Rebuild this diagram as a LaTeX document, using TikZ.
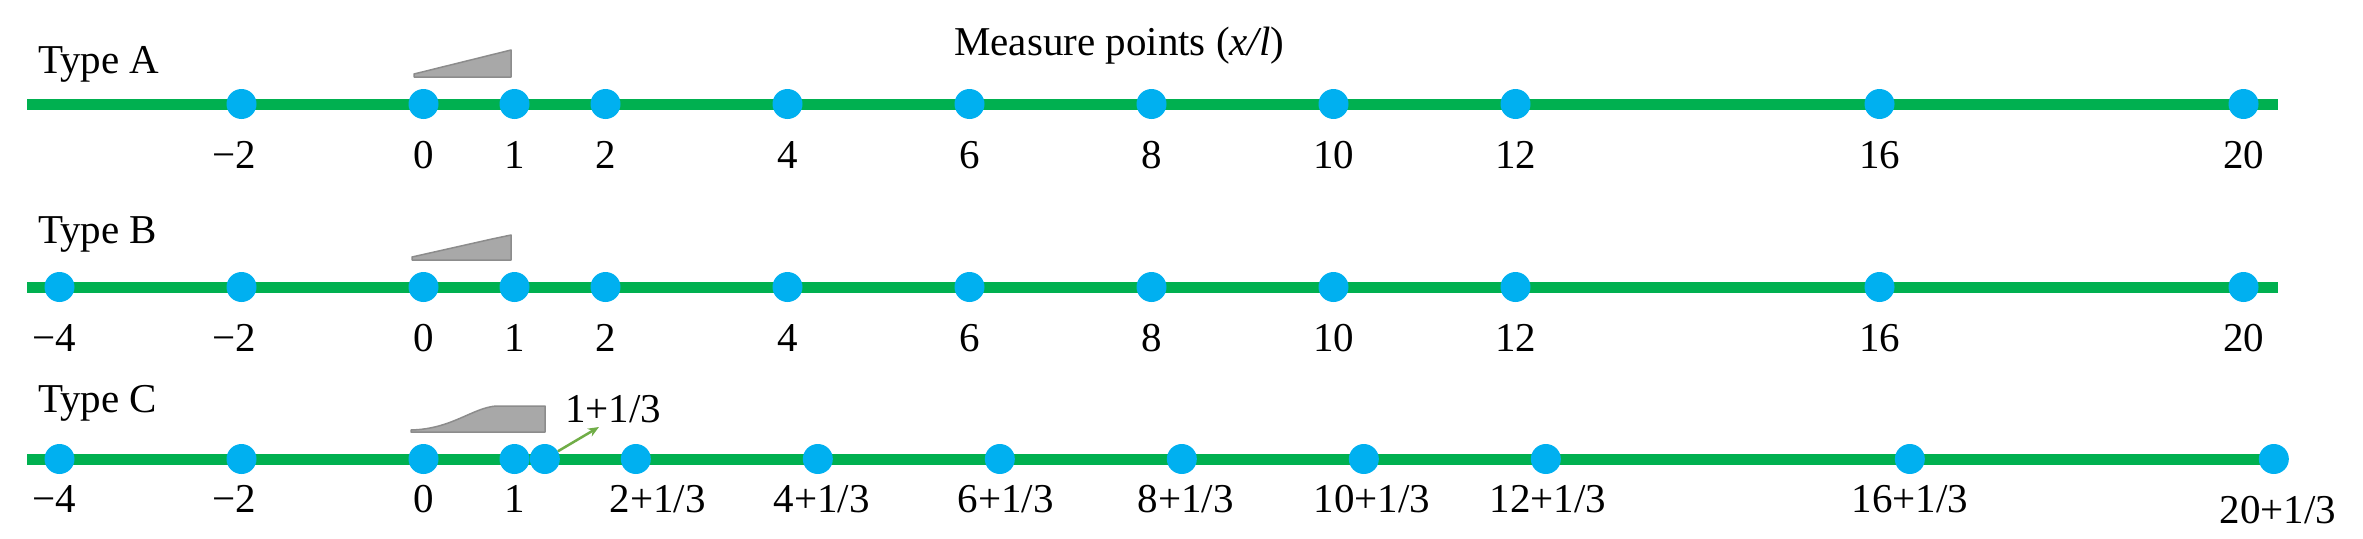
\documentclass[tikz,border=0pt]{standalone}
\usepackage{fontspec}
\setmainfont{Liberation Serif}
\usetikzlibrary{arrows.meta}
\definecolor{lineg}{HTML}{00B050}
\definecolor{dotb}{HTML}{00B0F0}
\definecolor{arrg}{HTML}{70AD47}
\definecolor{rampf}{HTML}{A8A8A8}
\definecolor{rampd}{HTML}{8C8C8C}
\begin{document}
\begin{tikzpicture}[x=1pt,y=-1pt,
  track/.style={draw=lineg, line width=11pt},
  mp/.style={circle, fill=dotb, minimum size=30pt, inner sep=0pt},
  lbl/.style={anchor=base, font=\fontsize{41}{48}\selectfont, inner sep=0pt},
  ttl/.style={anchor=base west, font=\fontsize{41}{48}\selectfont, inner sep=0pt},
  ramp/.style={fill=rampf, draw=rampd, line width=1.5pt, line join=round},
  pointer/.style={draw=arrg, line width=2.5pt, -{Stealth[length=11pt,width=9pt]}}]
\useasboundingbox (0,0) rectangle (2363,538);

% titles
\node[ttl] (tA) at (38,73) {Type A};
\node[ttl] (tB) at (38,243) {Type B};
\node[ttl] (tC) at (38,412) {Type C};
\node[ttl] (title) at (954,55) {Measure points (\textit{x/l})};

% tracks
\coordinate (As) at (27,104);  \coordinate (Ae) at (2278,104);
\coordinate (Bs) at (27,287);  \coordinate (Be) at (2278,287);
\coordinate (Cs) at (27,459);  \coordinate (Ce) at (2274,459);
\draw[track] (As) -- (Ae);
\draw[track] (Bs) -- (Be);
\draw[track] (Cs) -- (Ce);

% ramps
\draw[ramp] (414,77) -- (511,77) -- (511,50) -- (414,74) -- cycle;
\draw[ramp] (412,260) -- (511,260) -- (511,235) -- (492,239) -- (412,257) -- cycle;
\draw[ramp] (411,432) -- (545,432) -- (545,406) -- (496,406)
  .. controls (472,408) and (452,429) .. (411,430) -- cycle;

% Type A
\foreach \u/\n/\t/\dx in {-2/m2/{−2}/-7,0/0/0/0,1/1/1/0,2/2/2/0,4/4/4/0,6/6/6/0,8/8/8/0,10/10/10/0,12/12/12/0,16/16/16/0,20/20/20/0}{
  \node[mp] (A\n) at ({423.5+91*\u},104) {};
  \node[lbl] (lA\n) at ({423.5+91*\u+\dx},168) {\t};
}
% Type B
\foreach \u/\n/\t/\dx in {-4/m4/{−4}/-5,-2/m2/{−2}/-7,0/0/0/0,1/1/1/0,2/2/2/0,4/4/4/0,6/6/6/0,8/8/8/0,10/10/10/0,12/12/12/0,16/16/16/0,20/20/20/0}{
  \node[mp] (B\n) at ({423.5+91*\u},287) {};
  \node[lbl] (lB\n) at ({423.5+91*\u+\dx},351) {\t};
}
% Type C
\foreach \u/\n/\t/\dx/\by in {-4/m4/{−4}/-5/512,-2/m2/{−2}/-7/512,0/0/0/0/512,1/1/1/0/512}{
  \node[mp] (C\n) at ({423.5+91*\u},459) {};
  \node[lbl] (lC\n) at ({423.5+91*\u+\dx},\by) {\t};
}
\node[mp] (C1t) at ({423.5+91*4/3},459) {};
\foreach \u/\n/\dx/\by in {2/2/22/512,4/4/4/512,6/6/6/512,8/8/4/512,10/10/8/512,12/12/2/512,16/16/0/512,20/20/4/523}{
  \node[mp] (C\n) at ({423.5+91*(\u+1/3)},459) {};
  \node[lbl] (lC\n) at ({423.5+91*(\u+1/3)+\dx},\by) {\u+1/3};
}
\node[ttl] (lC1t) at (565,422) {1+1/3};
\coordinate (tip) at (599,427);
\draw[pointer] (C1t) -- (tip);
\end{tikzpicture}
\end{document}
